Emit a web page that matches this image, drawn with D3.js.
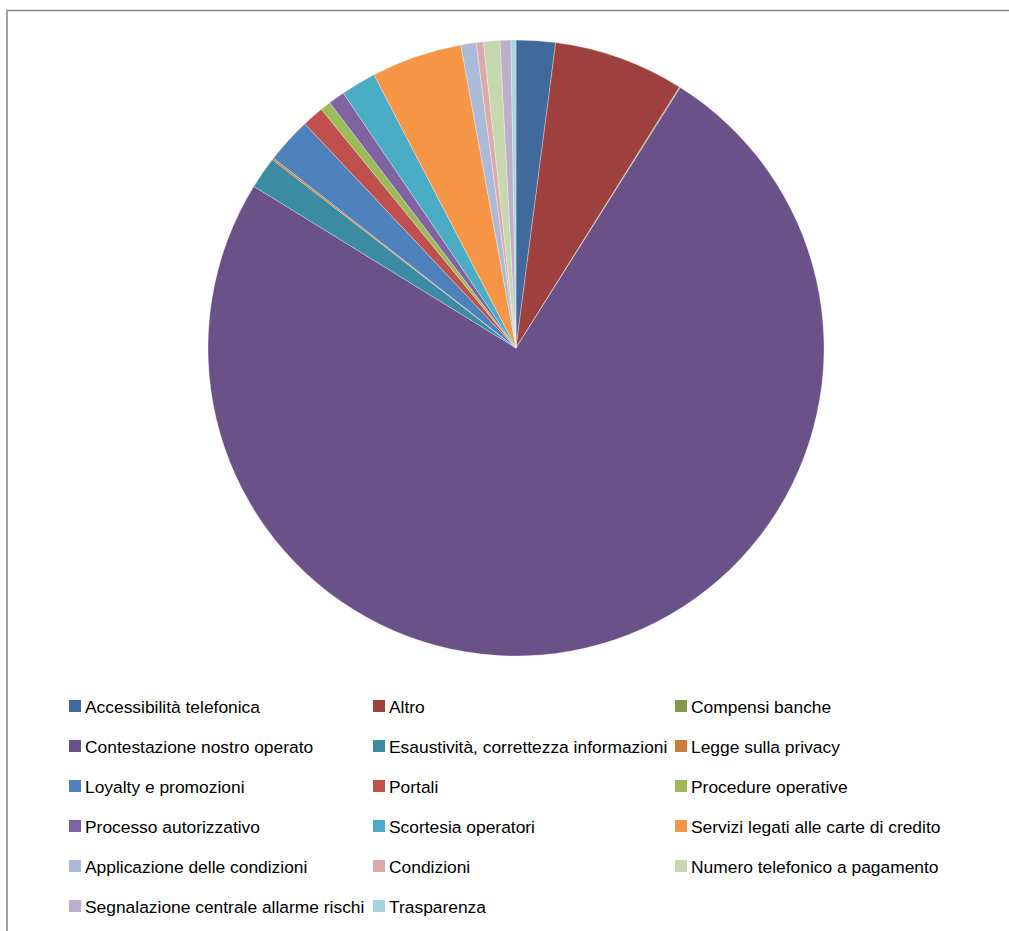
<!DOCTYPE html>
<html>
<head>
<meta charset="utf-8">
<script src="https://cdn.jsdelivr.net/npm/d3@7"></script>
<style>
  body { margin: 0; background: #fff; }
  text { font-family: "Liberation Sans", Arial, sans-serif; }
</style>
</head>
<body>
<div id="chart"></div>
<script>
var width = 1009, height = 931;

// categories in drawing order (clockwise from 12 o'clock)
var categories = [
  'Accessibilità telefonica', 'Altro', 'Compensi banche',
  'Contestazione nostro operato', 'Esaustività, correttezza informazioni', 'Legge sulla privacy',
  'Loyalty e promozioni', 'Portali', 'Procedure operative',
  'Processo autorizzativo', 'Scortesia operatori', 'Servizi legati alle carte di credito',
  'Applicazione delle condizioni', 'Condizioni', 'Numero telefonico a pagamento',
  'Segnalazione centrale allarme rischi', 'Trasparenza'
];

// share of complaints (%)
var values = [2.06, 6.85, 0.05, 74.86, 1.68, 0.10, 2.40, 1.14, 0.55, 0.86, 1.85, 4.76, 0.80, 0.38, 0.86, 0.57, 0.26];

var colors = [
  '#3f6a9b', '#9e413e', '#7f9a48', '#6a5187', '#3b8ca2', '#cc7b38',
  '#4f81bd', '#c0504d', '#9bbb59', '#8064a2', '#4bacc6', '#f79646',
  '#aabad7', '#dcaaa9', '#c7d7ae', '#bab0c9', '#a9d3df'
];

var svg = d3.select('#chart').append('svg')
  .attr('width', width)
  .attr('height', height);

// chart frame
svg.append('rect')
  .attr('x', 7).attr('y', 10.5)
  .attr('width', width + 20).attr('height', height + 20)
  .attr('fill', 'none')
  .attr('stroke', '#8c8c8c')
  .attr('stroke-width', 1.6);

var cx = 516, cy = 348, radius = 308;

var pie = d3.pie().sort(null).value(function(d) { return d; });
var arc = d3.arc().innerRadius(0).outerRadius(radius);

var color = d3.scaleOrdinal().domain(categories).range(colors);

svg.append('g')
  .attr('transform', 'translate(' + cx + ',' + cy + ')')
  .selectAll('path')
  .data(pie(values))
  .enter()
  .append('path')
  .attr('d', arc)
  .attr('fill', function(d, i) { return color(categories[i]); })
  .attr('stroke', '#ffffff')
  .attr('stroke-opacity', 0.6)
  .attr('stroke-width', 0.5);

// legend, 3 columns
var colX = d3.scaleOrdinal().domain([0, 1, 2]).range([69, 373, 675]);
var rowY = d3.scaleLinear().domain([0, 5]).range([706, 906]);

var legend = svg.append('g').selectAll('g')
  .data(categories)
  .enter()
  .append('g')
  .attr('transform', function(d, i) {
    return 'translate(' + colX(i % 3) + ',' + rowY(Math.floor(i / 3)) + ')';
  });

legend.append('rect')
  .attr('x', 0).attr('y', -6)
  .attr('width', 12).attr('height', 12)
  .attr('fill', function(d) { return color(d); });

legend.append('text')
  .attr('x', 16).attr('y', 6.5)
  .attr('font-size', '17.4px')
  .attr('fill', '#000')
  .text(function(d) { return d; });
</script>
</body>
</html>
